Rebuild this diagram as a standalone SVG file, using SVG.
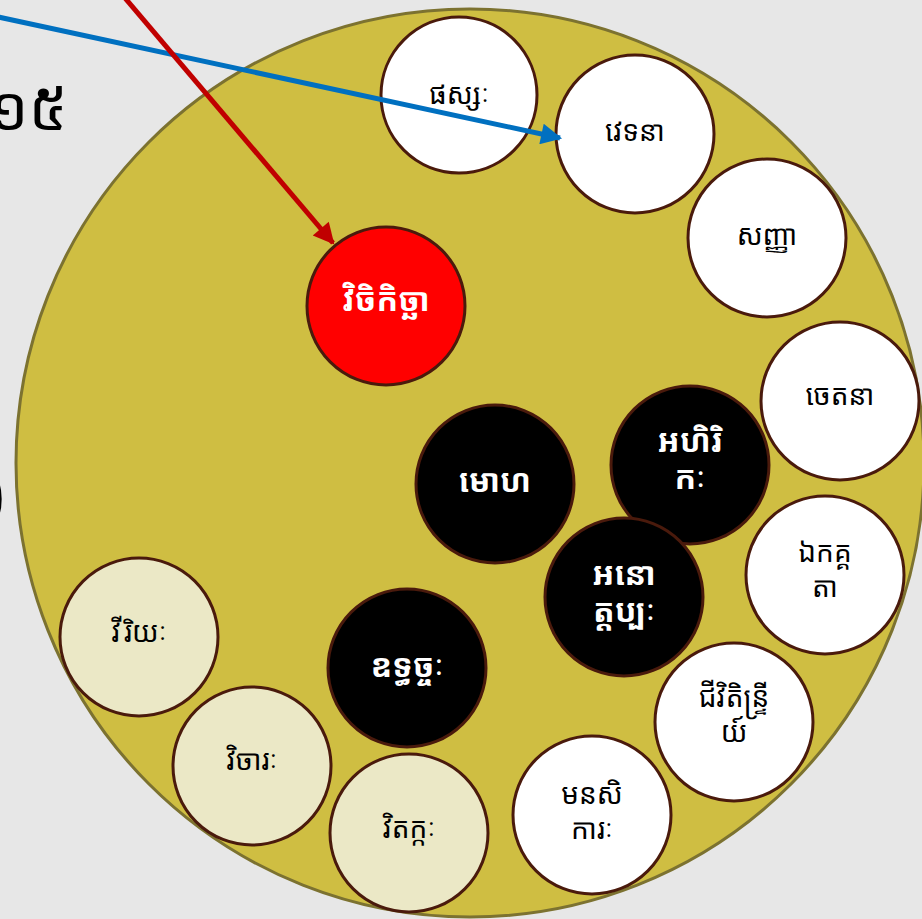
<svg xmlns="http://www.w3.org/2000/svg" width="922" height="919" viewBox="0 0 922 919">
<defs>
<style>
.n{stroke:#4A1A0C;stroke-width:3}
.w{fill:#FFFFFF}
.c{fill:#EBE8C6}
.b{fill:#000000}
.r{fill:#FF0000}
text{font-family:"Noto Sans Khmer","Khmer OS","Noto Sans","DejaVu Sans",sans-serif;text-anchor:middle}
.tk{fill:#000;font-size:28px}
.tw{fill:#fff;font-size:32px;font-weight:bold}
</style>
<marker id="ab" viewBox="0 0 10 10" refX="9" refY="5" markerWidth="4.8" markerHeight="4.2" orient="auto" markerUnits="strokeWidth"><path d="M0,0 L10,5 L0,10 z" fill="#0070C0"/></marker>
<marker id="ar" viewBox="0 0 10 10" refX="9" refY="5" markerWidth="4.8" markerHeight="4.2" orient="auto" markerUnits="strokeWidth"><path d="M0,0 L10,5 L0,10 z" fill="#C00000"/></marker>
</defs>
<rect width="922" height="919" fill="#E7E7E7"/>
<text x="68" y="130" style="font-size:62px;text-anchor:end;fill:#000">១៥</text>
<text x="5" y="516" style="font-size:66px;text-anchor:end;fill:#000;font-family:'Liberation Sans',sans-serif;font-weight:bold">)</text>
<circle id="main" cx="470" cy="463" r="454" fill="#CFBE42" stroke="#7C7230" stroke-width="3"/>
<g id="n-phassa"><circle class="n w" cx="459" cy="95" r="78"/><text class="tk" x="459" y="104">ផស្សៈ</text></g>
<g id="n-vedana"><circle class="n w" cx="635" cy="134" r="79"/><text class="tk" x="635" y="141">វេទនា</text></g>
<g id="n-sanna"><circle class="n w" cx="767" cy="238" r="79"/><text class="tk" x="767" y="245">សញ្ញា</text></g>
<g id="n-cetana"><circle class="n w" cx="840" cy="401" r="79"/><text class="tk" x="840" y="405">ចេតនា</text></g>
<g id="n-ekaggata"><circle class="n w" cx="825" cy="575" r="79"/><text class="tk" x="825" y="562">ឯកគ្គ</text><text class="tk" x="825" y="597">តា</text></g>
<g id="n-jivitindriya"><circle class="n w" cx="734" cy="722" r="79"/><text class="tk" x="734" y="707">ជីវិតិន្ទ្រី</text><text class="tk" x="734" y="742">យ៍</text></g>
<g id="n-manasikara"><circle class="n w" cx="592" cy="815" r="79"/><text class="tk" x="592" y="804">មនសិ</text><text class="tk" x="592" y="839">ការៈ</text></g>
<g id="n-vitakka"><circle class="n c" cx="409" cy="833" r="79"/><text class="tk" x="409" y="838">វិតក្កៈ</text></g>
<g id="n-vicara"><circle class="n c" cx="252" cy="766" r="79"/><text class="tk" x="252" y="770">វិចារៈ</text></g>
<g id="n-viriya"><circle class="n c" cx="139" cy="637" r="79"/><text class="tk" x="139" y="642">វីរិយៈ</text></g>
<g id="n-uddhacca"><circle class="n b" cx="407" cy="668" r="79"/><text class="tw" x="407" y="677">ឧទ្ធច្ចៈ</text></g>
<g id="n-moha"><circle class="n b" cx="495" cy="484" r="79"/><text class="tw" x="495" y="492">មោហ</text></g>
<g id="n-ahirika"><circle class="n b" cx="690" cy="465" r="79"/><text class="tw" x="690" y="452">អហិរិ</text><text class="tw" x="690" y="489">កៈ</text></g>
<g id="n-anottappa"><circle class="n b" cx="624" cy="597" r="79"/><text class="tw" x="624" y="585">អនោ</text><text class="tw" x="624" y="622">ត្តប្បៈ</text></g>
<g id="n-vicikiccha"><circle class="n r" cx="386" cy="306" r="79"/><text class="tw" x="386" y="311">វិចិកិច្ឆា</text></g>
<g id="connectors">
<line x1="-2" y1="17" x2="560" y2="138" stroke="#0070C0" stroke-width="5" marker-end="url(#ab)"/>
<line x1="125" y1="-2" x2="333" y2="243" stroke="#C00000" stroke-width="5" marker-end="url(#ar)"/>
</g>
</svg>
